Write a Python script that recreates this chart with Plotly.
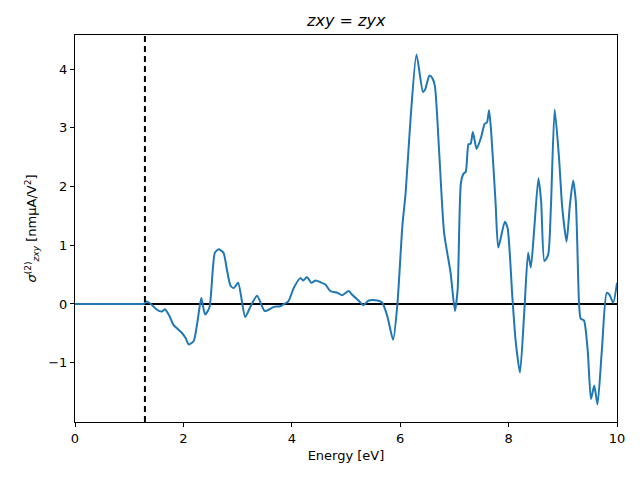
import plotly.graph_objects as go

energy = [0, 1.0, 1.2, 1.26, 1.32, 1.40, 1.50, 1.60, 1.66, 1.74, 1.82, 1.97, 2.04, 2.10, 2.19,
          2.26, 2.33, 2.40, 2.48, 2.58, 2.65, 2.74, 2.80, 2.87, 2.93, 3.01, 3.14, 3.25, 3.36,
          3.50, 3.67, 3.79, 3.88, 3.94, 4.04, 4.16, 4.21, 4.28, 4.36, 4.44, 4.53, 4.62, 4.71,
          4.84, 4.93, 5.05, 5.11, 5.24, 5.32, 5.42, 5.58, 5.67, 5.76, 5.87, 5.95, 6.04, 6.10,
          6.19, 6.30, 6.42, 6.46, 6.54, 6.59, 6.64, 6.72, 6.81, 6.93, 7.01, 7.06, 7.12, 7.17,
          7.21, 7.26, 7.30, 7.34, 7.41, 7.49, 7.56, 7.60, 7.64, 7.68, 7.76, 7.81, 7.93, 7.98,
          8.07, 8.13, 8.21, 8.29, 8.36, 8.41, 8.47, 8.55, 8.60, 8.66, 8.73, 8.78, 8.85, 8.93,
          8.99, 9.07, 9.13, 9.19, 9.24, 9.30, 9.33, 9.39, 9.46, 9.52, 9.58, 9.64, 9.72, 9.81,
          9.86, 9.93, 10.0]
sigma = [0, 0, 0, 0.0, 0.04, 0.0, -0.09, -0.13, -0.09, -0.2, -0.36, -0.49, -0.58, -0.69, -0.63,
         -0.3, 0.10, -0.18, -0.06, 0.87, 0.93, 0.87, 0.6, 0.31, 0.27, 0.36, -0.22, -0.02, 0.14,
         -0.12, -0.05, -0.04, 0.01, 0.05, 0.28, 0.44, 0.40, 0.46, 0.36, 0.40, 0.37, 0.33, 0.22,
         0.19, 0.15, 0.22, 0.16, 0.05, -0.02, 0.06, 0.06, 0.02, -0.20, -0.61, 0.02, 1.33, 1.89,
         3.14, 4.25, 3.61, 3.65, 3.89, 3.85, 3.71, 2.57, 1.21, 0.53, -0.12, 0.25, 2.06, 2.22,
         2.25, 2.72, 2.73, 2.93, 2.64, 2.83, 3.07, 3.09, 3.30, 2.91, 1.72, 0.96, 1.40, 1.30,
         0.11, -0.63, -1.17, -0.12, 0.87, 0.62, 1.24, 2.14, 1.75, 0.73, 0.84, 1.64, 3.31, 2.49,
         1.64, 1.06, 1.68, 2.10, 1.75, 0.0, -0.25, -0.28, -0.80, -1.62, -1.39, -1.71, -0.80, 0.19,
         0.16, 0.02, 0.36]

gap_energy = 1.29
x_ticks = [0, 2, 4, 6, 8, 10]
y_ticks = [-1, 0, 1, 2, 3, 4]

fig = go.Figure()
fig.add_trace(go.Scatter(x=energy, y=sigma, mode="lines",
                         line=dict(color="#1f77b4", width=2, shape="spline", smoothing=0.6),
                         showlegend=False))
fig.add_shape(type="line", xref="x", yref="y", x0=0, x1=10, y0=0, y1=0, layer="below",
              line=dict(color="black", width=2))
fig.add_shape(type="line", xref="x", yref="paper", x0=gap_energy, x1=gap_energy, y0=0, y1=1,
              line=dict(color="black", width=2, dash="6px,4px"))

axis_common = dict(showline=True, mirror=True, linecolor="black", linewidth=1,
                   ticks="outside", ticklen=4, tickcolor="black", showgrid=False,
                   zeroline=False, tickfont=dict(size=13, color="black"))
fig.update_xaxes(range=[0, 10], tickvals=x_ticks,
                 title=dict(text="Energy [eV]", font=dict(size=13, color="black"), standoff=6),
                 **axis_common)
fig.update_yaxes(range=[-2.01, 4.58], tickvals=y_ticks,
                 title=dict(text="<i>σ</i><sup>(2)</sup><sub><i>zxy</i></sub> [nmμA/V<sup>2</sup>]",
                            font=dict(size=13, color="black"), standoff=8),
                 **axis_common)
fig.update_layout(
    width=640, height=480,
    margin=dict(l=75, r=23, t=35, b=58),
    paper_bgcolor="white", plot_bgcolor="white",
    font=dict(family="DejaVu Sans", color="black"),
    title=dict(text="<i>zxy</i> = <i>zyx</i>", x=0.541, xanchor="center", y=0.958, yanchor="middle",
               font=dict(size=16, color="black")),
)
fig.write_html("out.html")
